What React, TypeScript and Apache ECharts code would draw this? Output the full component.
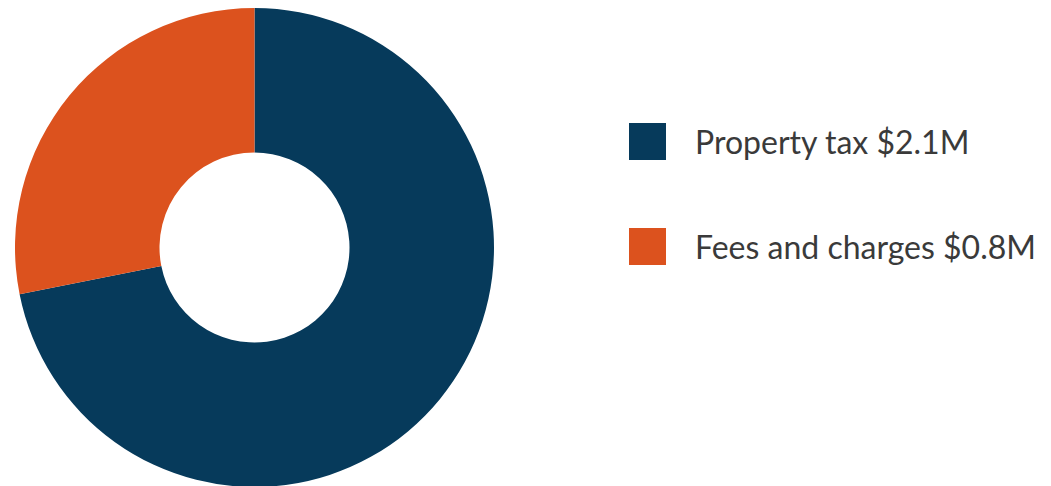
import React, { useEffect, useRef } from "react";
import * as echarts from "echarts";

const categories = ["Property tax", "Fees and charges"];
const values = [2.07, 0.81];
const colors = ["#063A5B", "#DC521E"];

export default function App() {
  const ref = useRef<HTMLDivElement>(null);
  useEffect(() => {
    if (!ref.current) return;
    const chart = echarts.init(ref.current, undefined, { renderer: "svg" });
    chart.setOption({
      animation: false,
      backgroundColor: "#ffffff",
      color: colors,
      legend: {
        orient: "vertical",
        left: 624,
        top: 118,
        itemWidth: 37,
        itemHeight: 37,
        itemGap: 68,
        icon: "rect",
        selectedMode: false,
        formatter: (name: string) => {
          const i = categories.indexOf(name);
          return `${name} $${values[i].toFixed(1)}M`;
        },
        textStyle: {
          fontFamily: "Lato",
          fontSize: 32,
          color: "#3a3a3a",
          padding: [0, 0, 0, 24],
        },
      },
      series: [
        {
          type: "pie",
          center: [254.5, 247.5],
          radius: [95, 239.5],
          startAngle: 90,
          clockwise: true,
          label: { show: false },
          labelLine: { show: false },
          silent: true,
          itemStyle: { borderWidth: 0 },
          data: categories.map((c, i) => ({ name: c, value: values[i] })),
        },
      ],
    });
    return () => chart.dispose();
  }, []);
  return (
    <div
      ref={ref}
      style={{ position: "fixed", left: 0, top: 0, width: 1051, height: 486 }}
    />
  );
}
